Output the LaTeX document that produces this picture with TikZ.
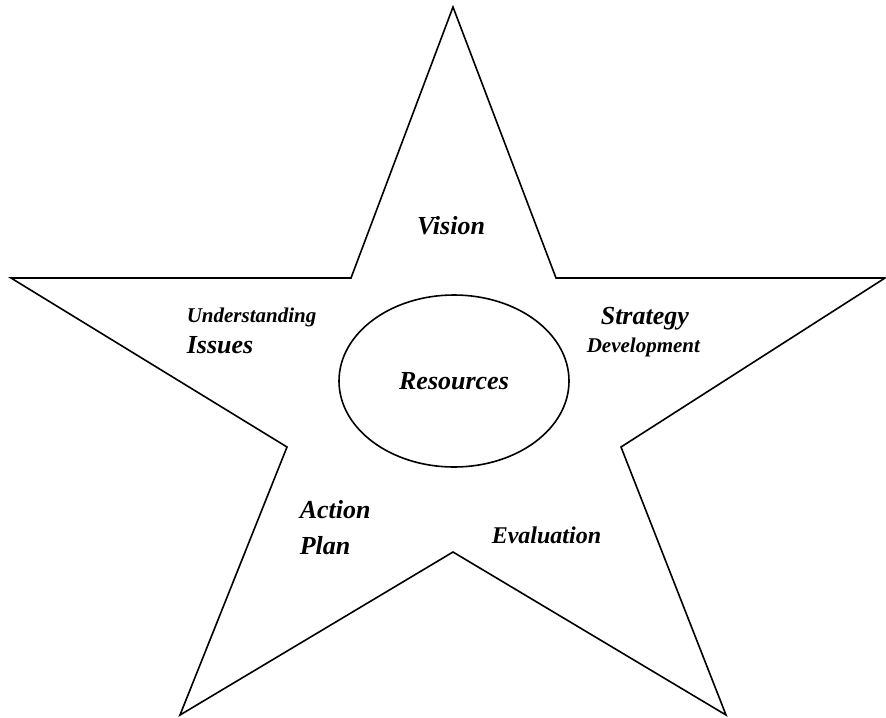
\documentclass[tikz,border=0pt]{standalone}
\usepackage{fontspec}
\setmainfont{Liberation Serif}
\usepackage{tikz}
\usetikzlibrary{shapes.geometric}
\tikzset{>=latex}
\tikzset{
  bigtxt/.style={font=\fontsize{13}{15}\selectfont\bfseries\itshape, inner sep=0pt},
  smalltxt/.style={font=\fontsize{10.5}{12}\selectfont\bfseries\itshape, inner sep=0pt}
}

\begin{document}
\begin{tikzpicture}[x=0.5pt, y=-0.5pt, line width=0.8pt, line join=miter]
    \useasboundingbox (0,0) rectangle (886,717);
    % the star
    \draw (453,7) -- (556,278) -- (885,278) -- (621,447) -- (726,715)
       -- (453,552) -- (180,715) -- (287,447) -- (11,278) -- (351,278) -- cycle;

    % centre
    \node[ellipse, draw, minimum width=115pt, minimum height=86pt, inner sep=0pt,
          bigtxt] (res) at (454,381) {Resources};

    \begin{scope}[bigtxt]
      \node (vision) at (451,226) {Vision};
      \node[anchor=west] (issues) at (186,345) {Issues};
      \node[anchor=west] (strategy) at (600,319) {Strategy};
      \node[anchor=west] (action) at (299,510) {Action};
      \node[anchor=west] (plan) at (299,546) {Plan};
    \end{scope}
    \begin{scope}[smalltxt]
      \node[anchor=west] (underst) at (186,317) {Understanding};
      \node[anchor=west] (develop) at (586,347) {Development};
    \end{scope}
    \node[anchor=west, font=\fontsize{12}{14}\selectfont\bfseries\itshape, inner sep=0pt]
      (eval) at (491,535) {Evaluation};
\end{tikzpicture}
\end{document}
